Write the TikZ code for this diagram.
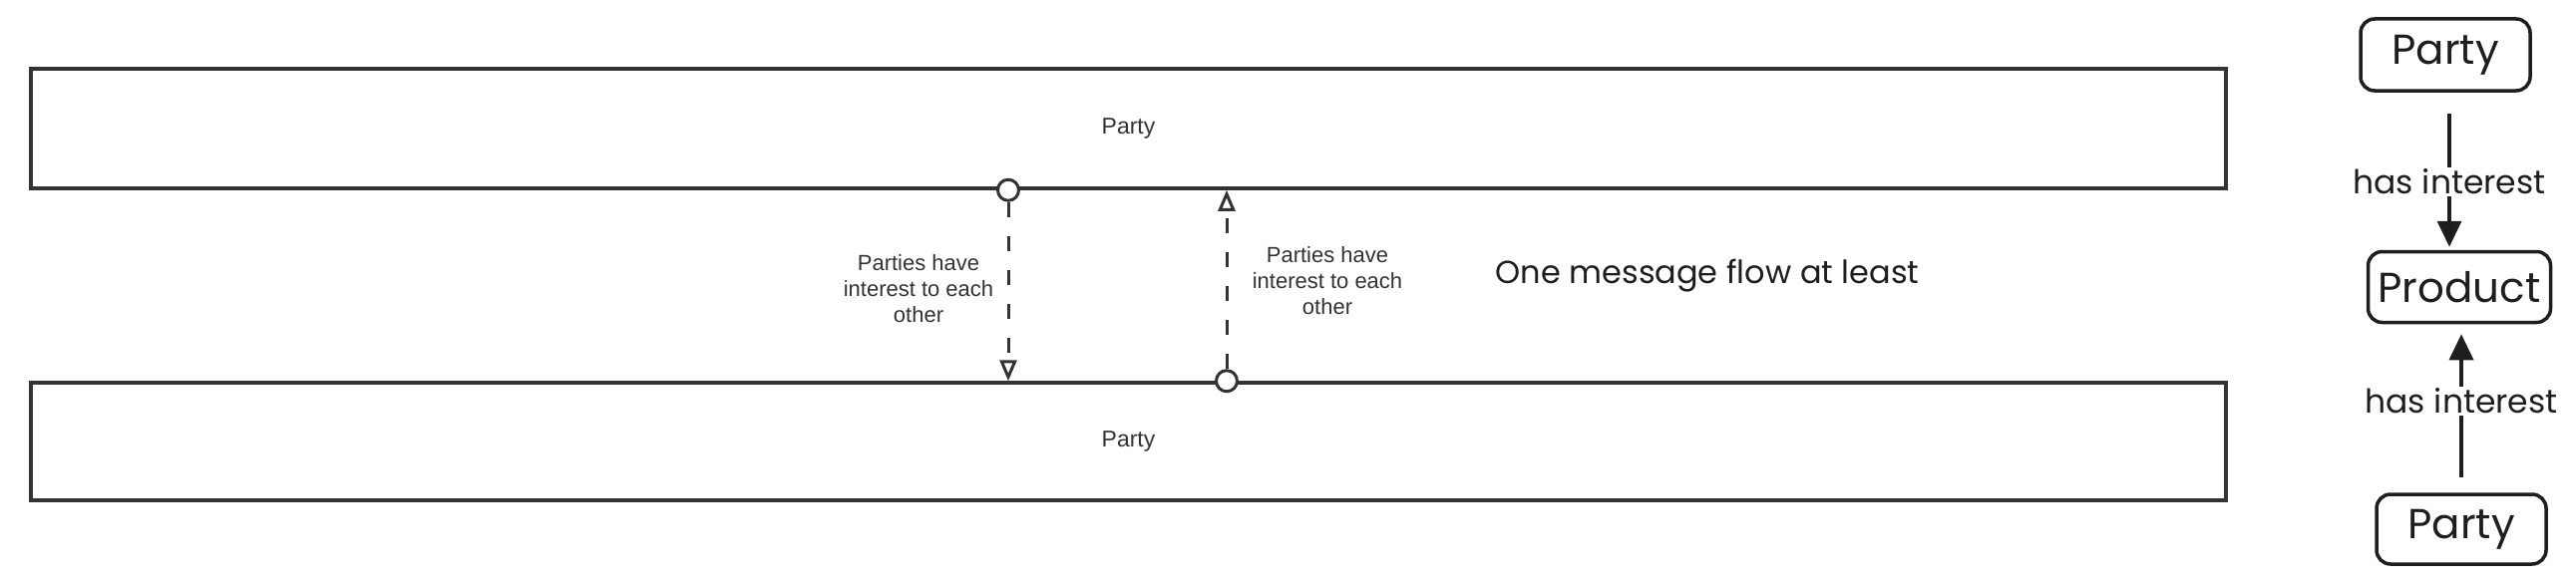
\documentclass[tikz,border=0pt]{standalone}
\usepackage{fontspec}
\setmainfont{Liberation Sans}
\newfontfamily\sketchfont{Poppins}
\usetikzlibrary{arrows.meta,positioning}

\definecolor{poolgray}{HTML}{333333}
\definecolor{inkblack}{HTML}{1E1E1E}

\tikzset{
  pool/.style={draw=poolgray, line width=3.5pt, minimum width=2201pt, inner sep=0pt,
    text=poolgray, font=\fontsize{23}{27}\selectfont},
  flowstart/.style={circle, draw=poolgray, fill=white, line width=3pt,
    minimum size=21pt, inner sep=0pt},
  msgflow/.style={draw=poolgray, line width=3pt, dash pattern=on 15pt off 19pt,
    -{Triangle[open, width=17pt, length=21pt]}},
  flowlabel/.style={align=center, text=poolgray, inner sep=0pt,
    font=\fontsize{22}{26}\selectfont},
  sketchtext/.style={text=inkblack, inner sep=0pt, font=\sketchfont\fontsize{32}{38}\selectfont},
  sketchbox/.style={draw=inkblack, line width=3.5pt, rounded corners=14pt, inner sep=0pt,
    text=inkblack, font=\sketchfont\fontsize{42}{48}\selectfont},
  sketcharrow/.style={draw=inkblack, line width=3.5pt,
    -{Triangle[width=24pt, length=26pt]}},
  sketchlabel/.style={fill=white, text=inkblack, inner sep=2pt,
    font=\sketchfont\fontsize{33}{38}\selectfont}
}

\begin{document}
\begin{tikzpicture}[x=1pt, y=-1pt]
  \useasboundingbox (0,0) rectangle (2583,586);
  % pools
  \node[pool, minimum height=120pt] (poolTop) at (1131.5,129) {Party};
  \node[pool, minimum height=118pt] (poolBot) at (1131.5,443) {Party};
  % message flows
  \coordinate (xL) at (1011,0);
  \coordinate (xR) at (1230,0);
  \node[flowstart] (startL) at (xL |- poolTop.south) {};
  \node[flowstart] (startR) at (xR |- poolBot.north) {};
  \draw[msgflow] (startL) -- (xL |- poolBot.north);
  \draw[msgflow] (startR) -- (xR |- poolTop.south);
  \node[flowlabel] (labelL) at (921,290) {Parties have\\interest to each\\other};
  \node[flowlabel] (labelR) at (1331,282) {Parties have\\interest to each\\other};
  \node[sketchtext] (note) at (1712,277) {One message flow at least};
  % sketch on the right
  \node[sketchbox, minimum width=170pt, minimum height=72pt] (partyA) at (2452,55) {Party};
  \node[sketchbox, minimum width=183pt, minimum height=71pt] (product) at (2466,288) {Product};
  \node[sketchbox, minimum width=170pt, minimum height=70pt] (partyB) at (2468,531) {Party};
  \coordinate (topStart) at ([xshift=4pt, yshift=-21pt]partyA.south);
  \draw[sketcharrow, shorten >=3pt] (topStart) -- (topStart |- product.north)
    node[sketchlabel, midway] {has interest};
  \draw[sketcharrow, shorten >=10pt] ([yshift=15pt]partyB.north) -- (partyB.north |- product.south)
    node[sketchlabel, midway] {has interest};
\end{tikzpicture}
\end{document}
